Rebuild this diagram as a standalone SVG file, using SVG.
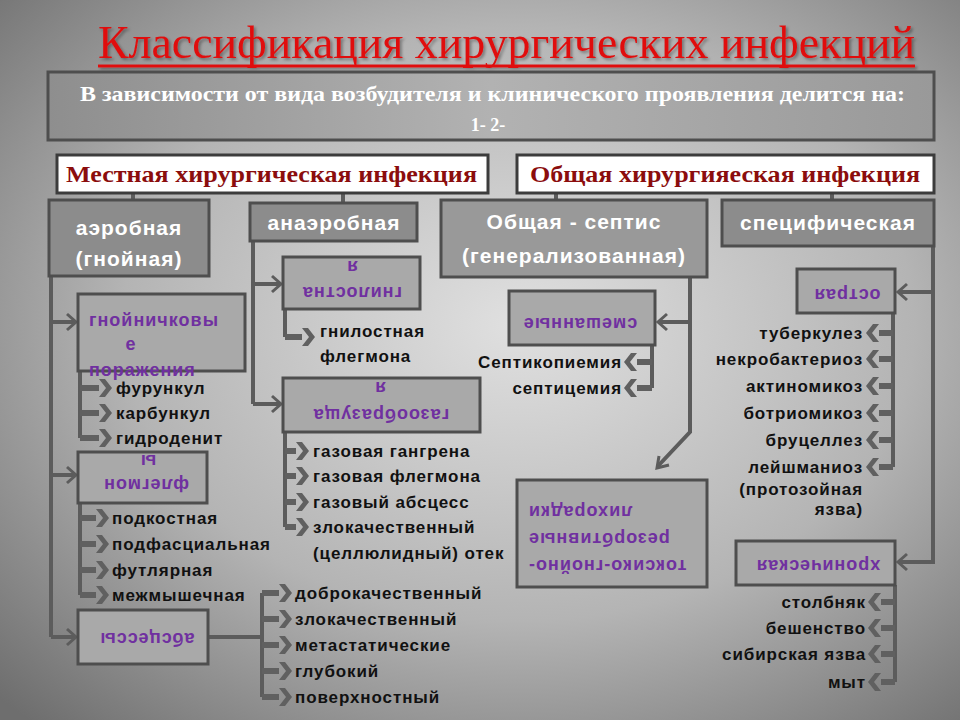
<svg xmlns="http://www.w3.org/2000/svg" width="960" height="720" viewBox="0 0 960 720">
<defs>
<radialGradient id="bg" cx="0.54" cy="0.45" r="0.75">
<stop offset="0" stop-color="#e0e0e0"/>
<stop offset="0.55" stop-color="#b4b4b4"/>
<stop offset="1" stop-color="#6e6e6e"/>
</radialGradient>
<linearGradient id="topbox" x1="0" y1="0" x2="1" y2="0">
<stop offset="0" stop-color="#8e8e8e"/>
<stop offset="0.5" stop-color="#b2b2b2"/>
<stop offset="1" stop-color="#999999"/>
</linearGradient>
<filter id="sh" x="-5%" y="-20%" width="110%" height="150%">
<feDropShadow dx="2" dy="2" stdDeviation="1.5" flood-color="#000" flood-opacity="0.35"/>
</filter>
<path id="chR" d="M0,-9 L6,-9 L13,0 L6,9 L0,9 L7,0 Z"/>
<path id="chL" d="M0,-9 L-6,-9 L-13,0 L-6,9 L0,9 L-7,0 Z"/>
<style>
.hdr{fill:#8c8c8c;stroke:#4e4e4e;stroke-width:3}
.sub{fill:#a9a9a9;stroke:#4e4e4e;stroke-width:3}
.wbox{fill:#ffffff;stroke:#3c3c3c;stroke-width:3}
.con{stroke:#5c5c5c;stroke-width:4;fill:none}
.stub{stroke:#606060;stroke-width:6;fill:none}
.head{stroke:#5c5c5c;stroke-width:3;fill:none}
.chev{fill:#606060}
.ht{font-family:"Liberation Sans",Arial,sans-serif;font-weight:bold;font-size:21px;fill:#ffffff;letter-spacing:1px;text-anchor:middle}
.pt{font-family:"Liberation Sans",Arial,sans-serif;font-weight:bold;font-size:18px;fill:#7030a0;letter-spacing:1px}
.it{font-family:"Liberation Sans",Arial,sans-serif;font-weight:bold;font-size:17px;fill:#111111;letter-spacing:0.9px}
.itr{font-family:"Liberation Sans",Arial,sans-serif;font-weight:bold;font-size:17px;fill:#111111;letter-spacing:0.9px;text-anchor:end}
.cat{font-family:"Liberation Serif","Times New Roman",serif;font-weight:bold;font-size:23px;fill:#8b0d0d}
</style>
</defs>
<rect x="0" y="0" width="960" height="720" fill="url(#bg)"/>

<g id="title" filter="url(#sh)">
<text x="98" y="58" font-family="'Liberation Serif','Times New Roman',serif" font-size="46" fill="#e01010" textLength="817" lengthAdjust="spacingAndGlyphs">Классификация хирургических инфекций</text>
<line x1="98" y1="66" x2="915" y2="66" stroke="#e01010" stroke-width="3"/>
</g>

<g id="intro">
<rect x="48" y="72" width="886" height="68" fill="url(#topbox)" stroke="#4e4e4e" stroke-width="3"/>
<text x="80" y="101" font-family="'Liberation Serif','Times New Roman',serif" font-weight="bold" font-size="21" fill="#ffffff" textLength="825" lengthAdjust="spacingAndGlyphs">В зависимости от вида возбудителя и клинического проявления делится на:</text>
<text x="488" y="131" font-family="'Liberation Serif','Times New Roman',serif" font-weight="bold" font-size="18" fill="#ffffff" text-anchor="middle">1- 2-</text>
</g>

<g id="connectors">
<line class="con" x1="133" y1="193" x2="133" y2="200"/>
<line class="con" x1="343" y1="193" x2="343" y2="203"/>
<line class="con" x1="556" y1="193" x2="556" y2="200"/>
<line class="con" x1="832" y1="193" x2="832" y2="200"/>
<!-- aerobic -->
<polyline class="con" points="51,276 51,637"/>
<line class="con" x1="51" y1="322" x2="76" y2="322"/><polyline class="head" points="67,314 76,322 67,330"/>
<line class="con" x1="51" y1="475" x2="76" y2="475"/><polyline class="head" points="67,467 76,475 67,483"/>
<line class="con" x1="51" y1="637" x2="76" y2="637"/><polyline class="head" points="67,629 76,637 67,645"/>
<!-- anaerobic -->
<polyline class="con" points="253,241 253,404"/>
<line class="con" x1="253" y1="284" x2="281" y2="284"/><polyline class="head" points="272,276 281,284 272,292"/>
<line class="con" x1="253" y1="404" x2="281" y2="404"/><polyline class="head" points="272,396 281,404 272,412"/>
<!-- sepsis -->
<polyline class="con" points="690,277 690,432 658,466"/>
<polyline class="head" points="669,465 657,468 659,456"/>
<line class="con" x1="690" y1="322" x2="658" y2="322"/><polyline class="head" points="667,314 658,322 667,330"/>
<!-- specific -->
<polyline class="con" points="933,246 933,562 898,562"/>
<line class="con" x1="933" y1="292" x2="898" y2="292"/><polyline class="head" points="907,284 898,292 907,300"/>
<polyline class="head" points="907,554 898,562 907,570"/>
<!-- abscess -->
<line class="con" x1="208" y1="637" x2="262" y2="637"/>

<!-- item lists -->
<line class="con" x1="80" y1="371" x2="80" y2="438"/>
<line class="stub" x1="80" y1="388" x2="99" y2="388"/><use href="#chR" class="chev" x="99" y="388"/>
<line class="stub" x1="80" y1="413" x2="99" y2="413"/><use href="#chR" class="chev" x="99" y="413"/>
<line class="stub" x1="80" y1="438" x2="99" y2="438"/><use href="#chR" class="chev" x="99" y="438"/>

<line class="con" x1="80" y1="503" x2="80" y2="595"/>
<line class="stub" x1="80" y1="518" x2="96" y2="518"/><use href="#chR" class="chev" x="96" y="518"/>
<line class="stub" x1="80" y1="544" x2="96" y2="544"/><use href="#chR" class="chev" x="96" y="544"/>
<line class="stub" x1="80" y1="570" x2="96" y2="570"/><use href="#chR" class="chev" x="96" y="570"/>
<line class="stub" x1="80" y1="595" x2="96" y2="595"/><use href="#chR" class="chev" x="96" y="595"/>

<line class="con" x1="285" y1="309" x2="285" y2="337"/>
<line class="stub" x1="285" y1="337" x2="302" y2="337"/><use href="#chR" class="chev" x="302" y="337"/>

<line class="con" x1="285" y1="432" x2="285" y2="527"/>
<line class="stub" x1="285" y1="451" x2="296" y2="451"/><use href="#chR" class="chev" x="296" y="451"/>
<line class="stub" x1="285" y1="476" x2="296" y2="476"/><use href="#chR" class="chev" x="296" y="476"/>
<line class="stub" x1="285" y1="502" x2="296" y2="502"/><use href="#chR" class="chev" x="296" y="502"/>
<line class="stub" x1="285" y1="527" x2="296" y2="527"/><use href="#chR" class="chev" x="296" y="527"/>

<line class="con" x1="262" y1="593" x2="262" y2="697"/>
<line class="stub" x1="262" y1="593" x2="279" y2="593"/><use href="#chR" class="chev" x="279" y="593"/>
<line class="stub" x1="262" y1="619" x2="279" y2="619"/><use href="#chR" class="chev" x="279" y="619"/>
<line class="stub" x1="262" y1="645" x2="279" y2="645"/><use href="#chR" class="chev" x="279" y="645"/>
<line class="stub" x1="262" y1="671" x2="279" y2="671"/><use href="#chR" class="chev" x="279" y="671"/>
<line class="stub" x1="262" y1="697" x2="279" y2="697"/><use href="#chR" class="chev" x="279" y="697"/>

<line class="con" x1="652" y1="345" x2="652" y2="388"/>
<line class="stub" x1="652" y1="362" x2="637" y2="362"/><use href="#chL" class="chev" x="637" y="362"/>
<line class="stub" x1="652" y1="388" x2="637" y2="388"/><use href="#chL" class="chev" x="637" y="388"/>

<line class="con" x1="893" y1="313" x2="893" y2="467"/>
<line class="stub" x1="893" y1="333" x2="879" y2="333"/><use href="#chL" class="chev" x="879" y="333"/>
<line class="stub" x1="893" y1="359" x2="879" y2="359"/><use href="#chL" class="chev" x="879" y="359"/>
<line class="stub" x1="893" y1="386" x2="879" y2="386"/><use href="#chL" class="chev" x="879" y="386"/>
<line class="stub" x1="893" y1="413" x2="879" y2="413"/><use href="#chL" class="chev" x="879" y="413"/>
<line class="stub" x1="893" y1="440" x2="879" y2="440"/><use href="#chL" class="chev" x="879" y="440"/>
<line class="stub" x1="893" y1="467" x2="879" y2="467"/><use href="#chL" class="chev" x="879" y="467"/>

<line class="con" x1="895" y1="585" x2="895" y2="682"/>
<line class="stub" x1="895" y1="602" x2="881" y2="602"/><use href="#chL" class="chev" x="881" y="602"/>
<line class="stub" x1="895" y1="628" x2="881" y2="628"/><use href="#chL" class="chev" x="881" y="628"/>
<line class="stub" x1="895" y1="654" x2="881" y2="654"/><use href="#chL" class="chev" x="881" y="654"/>
<line class="stub" x1="895" y1="682" x2="881" y2="682"/><use href="#chL" class="chev" x="881" y="682"/>
</g>

<g id="local">
<rect class="wbox" x="57" y="155" width="431" height="38"/>
<text class="cat" x="66" y="182" textLength="411" lengthAdjust="spacingAndGlyphs">Местная хирургическая инфекция</text>
</g>
<g id="general">
<rect class="wbox" x="517" y="155" width="417" height="38"/>
<text class="cat" x="530" y="182" textLength="390" lengthAdjust="spacingAndGlyphs">Общая хирургияеская инфекция</text>
</g>

<g id="aerobic">
<rect class="hdr" x="49" y="200" width="160" height="76"/>
<text class="ht" x="129" y="235">аэробная</text>
<text class="ht" x="129" y="266">(гнойная)</text>
</g>
<g id="anaerobic">
<rect class="hdr" x="250" y="203" width="167" height="38"/>
<text class="ht" x="334" y="230">анаэробная</text>
</g>
<g id="sepsis">
<rect class="hdr" x="441" y="200" width="266" height="77" style="fill:#999999"/>
<text class="ht" x="574" y="229">Общая - септис</text>
<text class="ht" x="574" y="263">(генерализованная)</text>
</g>
<g id="specific">
<rect class="hdr" x="722" y="200" width="212" height="46"/>
<text class="ht" x="828" y="230">специфическая</text>
</g>

<g id="pustular">
<rect class="sub" x="78" y="294" width="167" height="77"/>
<text class="pt" x="89" y="326">гнойничковы</text>
<text class="pt" x="131" y="350" text-anchor="middle">е</text>
<text class="pt" x="89" y="376">поражения</text>
</g>
<g id="pustular-items">
<text class="it" x="116" y="394">фурункул</text>
<text class="it" x="116" y="419">карбункул</text>
<text class="it" x="116" y="444">гидроденит</text>
</g>

<g id="phlegmon">
<rect class="sub" x="78" y="452" width="129" height="51"/>
<text class="pt" x="148" y="463" text-anchor="middle" transform="rotate(180 148 459)">ы</text>
<text class="pt" x="146" y="487" text-anchor="middle" transform="rotate(180 146 483)">флегмон</text>
</g>
<g id="phlegmon-items">
<text class="it" x="112" y="524">подкостная</text>
<text class="it" x="112" y="550">подфасциальная</text>
<text class="it" x="112" y="576">футлярная</text>
<text class="it" x="112" y="601">межмышечная</text>
</g>

<g id="abscess">
<rect class="sub" x="78" y="610" width="130" height="54"/>
<text class="pt" x="147" y="641" text-anchor="middle" transform="rotate(180 147 637)">абсцессы</text>
</g>
<g id="abscess-items">
<text class="it" x="295" y="599">доброкачественный</text>
<text class="it" x="295" y="625">злокачественный</text>
<text class="it" x="295" y="651">метастатические</text>
<text class="it" x="295" y="677">глубокий</text>
<text class="it" x="295" y="703">поверхностный</text>
</g>

<g id="putrid">
<rect class="sub" x="283" y="257" width="137" height="52"/>
<text class="pt" x="352" y="269" text-anchor="middle" transform="rotate(180 352 265)">я</text>
<text class="pt" x="352" y="295" text-anchor="middle" transform="rotate(180 352 291)">гнилостна</text>
</g>
<g id="putrid-items">
<text class="it" x="320" y="337">гнилостная</text>
<text class="it" x="320" y="362">флегмона</text>
</g>

<g id="gas">
<rect class="sub" x="283" y="378" width="197" height="54"/>
<text class="pt" x="380" y="390" text-anchor="middle" transform="rotate(180 380 386)">я</text>
<text class="pt" x="381" y="417" text-anchor="middle" transform="rotate(180 381 413)">газообразуща</text>
</g>
<g id="gas-items">
<text class="it" x="313" y="457">газовая гангрена</text>
<text class="it" x="313" y="482">газовая флегмона</text>
<text class="it" x="313" y="508">газовый абсцесс</text>
<text class="it" x="313" y="533">злокачественный</text>
<text class="it" x="313" y="559">(целлюлидный) отек</text>
</g>

<g id="mixed">
<rect class="sub" x="509" y="291" width="146" height="54"/>
<text class="pt" x="580" y="326" text-anchor="middle" transform="rotate(180 580 322)">смешанные</text>
</g>
<g id="mixed-items">
<text class="itr" x="622" y="368">Септикопиемия</text>
<text class="itr" x="622" y="394">септицемия</text>
</g>

<g id="toxic">
<rect class="sub" x="517" y="480" width="190" height="107"/>
<text class="pt" x="528" y="514" text-anchor="end" transform="rotate(180 528 510)">лихорадки</text>
<text class="pt" x="528" y="541" text-anchor="end" transform="rotate(180 528 537)">резорбтивные</text>
<text class="pt" x="528" y="568" text-anchor="end" transform="rotate(180 528 564)">токсико-гнойно-</text>
</g>

<g id="acute">
<rect class="sub" x="797" y="269" width="98" height="44"/>
<text class="pt" x="847" y="297" text-anchor="middle" transform="rotate(180 847 293)">острая</text>
</g>
<g id="acute-items">
<text class="itr" x="863" y="339">туберкулез</text>
<text class="itr" x="863" y="365">некробактериоз</text>
<text class="itr" x="863" y="392">актиномикоз</text>
<text class="itr" x="863" y="419">ботриомикоз</text>
<text class="itr" x="863" y="446">бруцеллез</text>
<text class="itr" x="863" y="473">лейшманиоз</text>
<text class="itr" x="863" y="495">(протозойная</text>
<text class="itr" x="863" y="515">язва)</text>
</g>

<g id="chronic">
<rect class="sub" x="736" y="541" width="159" height="44"/>
<text class="pt" x="818" y="568" text-anchor="middle" transform="rotate(180 818 564)">хроническая</text>
</g>
<g id="chronic-items">
<text class="itr" x="866" y="608">столбняк</text>
<text class="itr" x="866" y="634">бешенство</text>
<text class="itr" x="866" y="660">сибирская язва</text>
<text class="itr" x="866" y="688">мыт</text>
</g>
</svg>
